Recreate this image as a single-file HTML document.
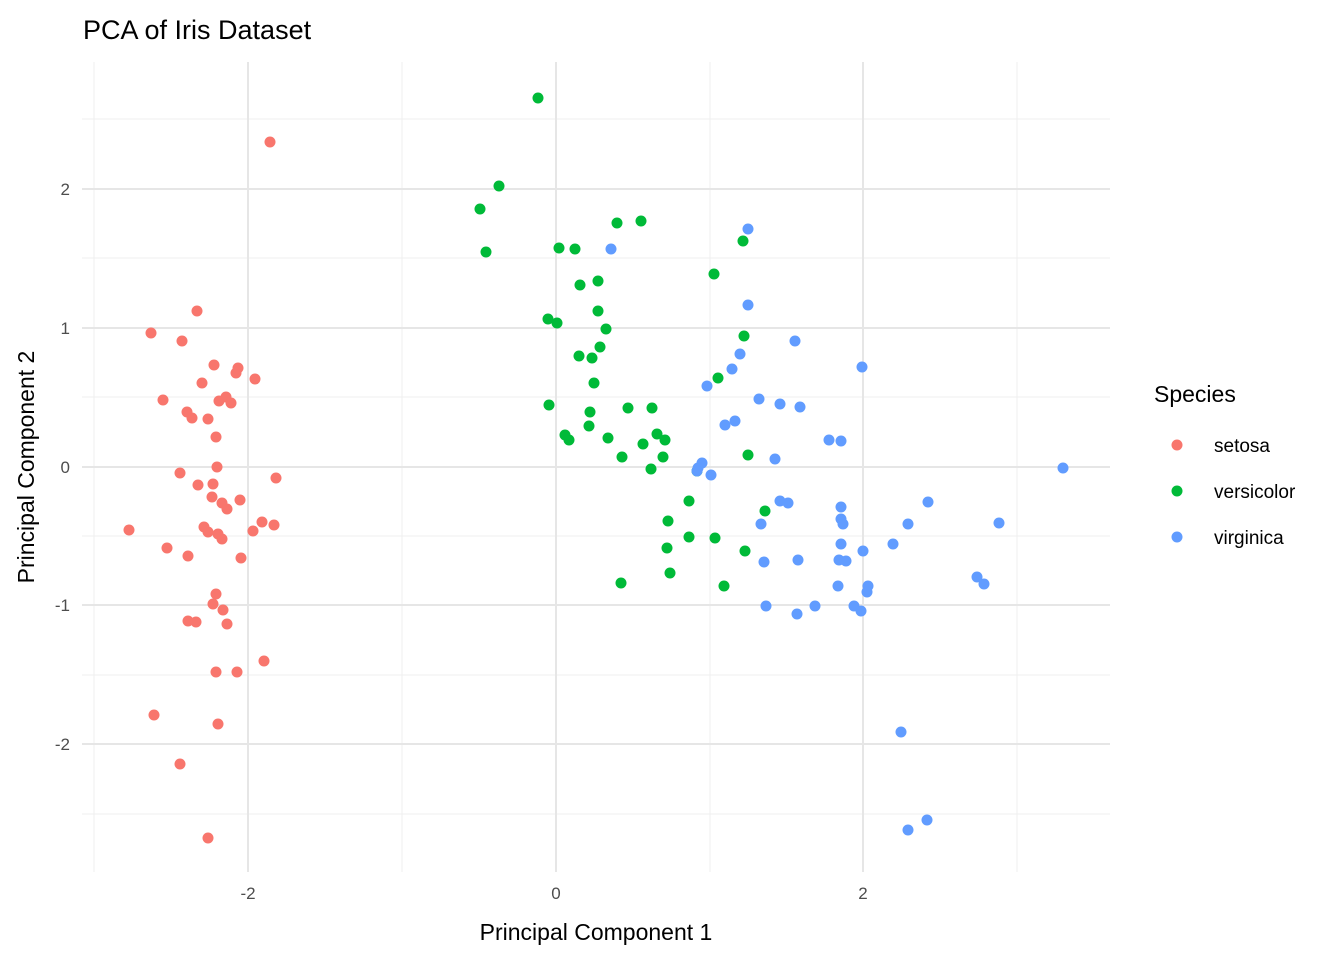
<!DOCTYPE html><html><head><meta charset="utf-8"><style>body{margin:0;background:#fff}svg{display:block}text{font-family:"Liberation Sans",Arial,sans-serif}</style></head><body>
<svg width="1344" height="960" xmlns="http://www.w3.org/2000/svg">
<g stroke="#EFEFEF" stroke-width="1">
<line x1="82" x2="1110" y1="119" y2="119"/><line x1="82" x2="1110" y1="258" y2="258"/><line x1="82" x2="1110" y1="397" y2="397"/><line x1="82" x2="1110" y1="536" y2="536"/><line x1="82" x2="1110" y1="675" y2="675"/><line x1="82" x2="1110" y1="814" y2="814"/>
<line y1="62" y2="872" x1="94" x2="94"/><line y1="62" y2="872" x1="402" x2="402"/><line y1="62" y2="872" x1="710" x2="710"/><line y1="62" y2="872" x1="1017" x2="1017"/>
</g>
<g stroke="#E6E6E6" stroke-width="2">
<line x1="82" x2="1110" y1="189" y2="189"/><line x1="82" x2="1110" y1="467" y2="467"/><line x1="82" x2="1110" y1="744" y2="744"/><line x1="82" x2="1110" y1="328" y2="328"/><line x1="82" x2="1110" y1="605" y2="605"/>
<line y1="62" y2="872" x1="248" x2="248"/><line y1="62" y2="872" x1="556" x2="556"/><line y1="62" y2="872" x1="863" x2="863"/>
</g>
<g fill="#4D4D4D" font-size="17" text-anchor="end">
<text x="70" y="195">2</text><text x="70" y="334">1</text><text x="70" y="473">0</text><text x="70" y="611">-1</text><text x="70" y="750">-2</text>
</g>
<g fill="#4D4D4D" font-size="17" text-anchor="middle">
<text x="248" y="899">-2</text><text x="556" y="899">0</text><text x="863" y="899">2</text>
</g>
<text x="83" y="39" font-size="27" fill="#000">PCA of Iris Dataset</text>
<text x="596" y="940" font-size="23" text-anchor="middle">Principal Component 1</text>
<text transform="translate(34,467) rotate(-90)" font-size="23" text-anchor="middle">Principal Component 2</text>
<g fill="#F8766D">
<circle cx="270" cy="142" r="5.5"/><circle cx="197" cy="311" r="5.5"/><circle cx="151" cy="333" r="5.5"/><circle cx="182" cy="341" r="5.5"/><circle cx="214" cy="365" r="5.5"/><circle cx="238" cy="368" r="5.5"/><circle cx="236" cy="373" r="5.5"/><circle cx="255" cy="379" r="5.5"/><circle cx="202" cy="383" r="5.5"/><circle cx="163" cy="400" r="5.5"/><circle cx="226" cy="397" r="5.5"/><circle cx="219" cy="401" r="5.5"/><circle cx="231" cy="403" r="5.5"/><circle cx="187" cy="412" r="5.5"/><circle cx="192" cy="418" r="5.5"/><circle cx="208" cy="419" r="5.5"/><circle cx="216" cy="437" r="5.5"/><circle cx="217" cy="467" r="5.5"/><circle cx="180" cy="473" r="5.5"/><circle cx="276" cy="478" r="5.5"/><circle cx="198" cy="485" r="5.5"/><circle cx="213" cy="484" r="5.5"/><circle cx="212" cy="497" r="5.5"/><circle cx="240" cy="500" r="5.5"/><circle cx="222" cy="503" r="5.5"/><circle cx="227" cy="509" r="5.5"/><circle cx="129" cy="530" r="5.5"/><circle cx="204" cy="527" r="5.5"/><circle cx="208" cy="532" r="5.5"/><circle cx="262" cy="522" r="5.5"/><circle cx="274" cy="525" r="5.5"/><circle cx="253" cy="531" r="5.5"/><circle cx="218" cy="534" r="5.5"/><circle cx="222" cy="539" r="5.5"/><circle cx="167" cy="548" r="5.5"/><circle cx="188" cy="556" r="5.5"/><circle cx="241" cy="558" r="5.5"/><circle cx="216" cy="594" r="5.5"/><circle cx="213" cy="604" r="5.5"/><circle cx="223" cy="610" r="5.5"/><circle cx="188" cy="621" r="5.5"/><circle cx="196" cy="622" r="5.5"/><circle cx="227" cy="624" r="5.5"/><circle cx="264" cy="661" r="5.5"/><circle cx="216" cy="672" r="5.5"/><circle cx="237" cy="672" r="5.5"/><circle cx="154" cy="715" r="5.5"/><circle cx="218" cy="724" r="5.5"/><circle cx="180" cy="764" r="5.5"/><circle cx="208" cy="838" r="5.5"/>
</g>
<g fill="#00BA38">
<circle cx="538" cy="98" r="5.5"/><circle cx="499" cy="186" r="5.5"/><circle cx="480" cy="209" r="5.5"/><circle cx="617" cy="223" r="5.5"/><circle cx="641" cy="221" r="5.5"/><circle cx="486" cy="252" r="5.5"/><circle cx="559" cy="248" r="5.5"/><circle cx="575" cy="249" r="5.5"/><circle cx="743" cy="241" r="5.5"/><circle cx="714" cy="274" r="5.5"/><circle cx="580" cy="285" r="5.5"/><circle cx="598" cy="281" r="5.5"/><circle cx="598" cy="311" r="5.5"/><circle cx="548" cy="319" r="5.5"/><circle cx="557" cy="323" r="5.5"/><circle cx="606" cy="329" r="5.5"/><circle cx="744" cy="336" r="5.5"/><circle cx="600" cy="347" r="5.5"/><circle cx="579" cy="356" r="5.5"/><circle cx="592" cy="358" r="5.5"/><circle cx="594" cy="383" r="5.5"/><circle cx="718" cy="378" r="5.5"/><circle cx="628" cy="408" r="5.5"/><circle cx="549" cy="405" r="5.5"/><circle cx="652" cy="408" r="5.5"/><circle cx="590" cy="412" r="5.5"/><circle cx="589" cy="426" r="5.5"/><circle cx="565" cy="435" r="5.5"/><circle cx="569" cy="440" r="5.5"/><circle cx="657" cy="434" r="5.5"/><circle cx="608" cy="438" r="5.5"/><circle cx="665" cy="440" r="5.5"/><circle cx="643" cy="444" r="5.5"/><circle cx="622" cy="457" r="5.5"/><circle cx="663" cy="457" r="5.5"/><circle cx="748" cy="455" r="5.5"/><circle cx="651" cy="469" r="5.5"/><circle cx="697" cy="471" r="5.5"/><circle cx="689" cy="501" r="5.5"/><circle cx="765" cy="511" r="5.5"/><circle cx="668" cy="521" r="5.5"/><circle cx="689" cy="537" r="5.5"/><circle cx="715" cy="538" r="5.5"/><circle cx="667" cy="548" r="5.5"/><circle cx="745" cy="551" r="5.5"/><circle cx="670" cy="573" r="5.5"/><circle cx="621" cy="583" r="5.5"/><circle cx="724" cy="586" r="5.5"/>
</g>
<g fill="#619CFF">
<circle cx="748" cy="229" r="5.5"/><circle cx="611" cy="249" r="5.5"/><circle cx="748" cy="305" r="5.5"/><circle cx="795" cy="341" r="5.5"/><circle cx="740" cy="354" r="5.5"/><circle cx="862" cy="367" r="5.5"/><circle cx="732" cy="369" r="5.5"/><circle cx="707" cy="386" r="5.5"/><circle cx="759" cy="399" r="5.5"/><circle cx="780" cy="404" r="5.5"/><circle cx="800" cy="407" r="5.5"/><circle cx="735" cy="421" r="5.5"/><circle cx="725" cy="425" r="5.5"/><circle cx="829" cy="440" r="5.5"/><circle cx="841" cy="441" r="5.5"/><circle cx="775" cy="459" r="5.5"/><circle cx="702" cy="463" r="5.5"/><circle cx="698" cy="468" r="5.5"/><circle cx="697" cy="471" r="5.5"/><circle cx="711" cy="475" r="5.5"/><circle cx="1063" cy="468" r="5.5"/><circle cx="928" cy="502" r="5.5"/><circle cx="780" cy="501" r="5.5"/><circle cx="788" cy="503" r="5.5"/><circle cx="841" cy="507" r="5.5"/><circle cx="908" cy="524" r="5.5"/><circle cx="761" cy="524" r="5.5"/><circle cx="841" cy="519" r="5.5"/><circle cx="843" cy="524" r="5.5"/><circle cx="999" cy="523" r="5.5"/><circle cx="893" cy="544" r="5.5"/><circle cx="841" cy="544" r="5.5"/><circle cx="863" cy="551" r="5.5"/><circle cx="798" cy="560" r="5.5"/><circle cx="839" cy="560" r="5.5"/><circle cx="846" cy="561" r="5.5"/><circle cx="764" cy="562" r="5.5"/><circle cx="977" cy="577" r="5.5"/><circle cx="984" cy="584" r="5.5"/><circle cx="838" cy="586" r="5.5"/><circle cx="868" cy="586" r="5.5"/><circle cx="867" cy="592" r="5.5"/><circle cx="766" cy="606" r="5.5"/><circle cx="815" cy="606" r="5.5"/><circle cx="854" cy="606" r="5.5"/><circle cx="861" cy="611" r="5.5"/><circle cx="797" cy="614" r="5.5"/><circle cx="901" cy="732" r="5.5"/><circle cx="927" cy="820" r="5.5"/><circle cx="908" cy="830" r="5.5"/>
</g>
<text x="1154" y="402" font-size="23">Species</text>
<circle cx="1177" cy="445" r="5.5" fill="#F8766D"/><circle cx="1177" cy="491" r="5.5" fill="#00BA38"/><circle cx="1177" cy="537" r="5.5" fill="#619CFF"/>
<text x="1214" y="452" font-size="19">setosa</text><text x="1214" y="498" font-size="19">versicolor</text><text x="1214" y="544" font-size="19">virginica</text>
</svg></body></html>
